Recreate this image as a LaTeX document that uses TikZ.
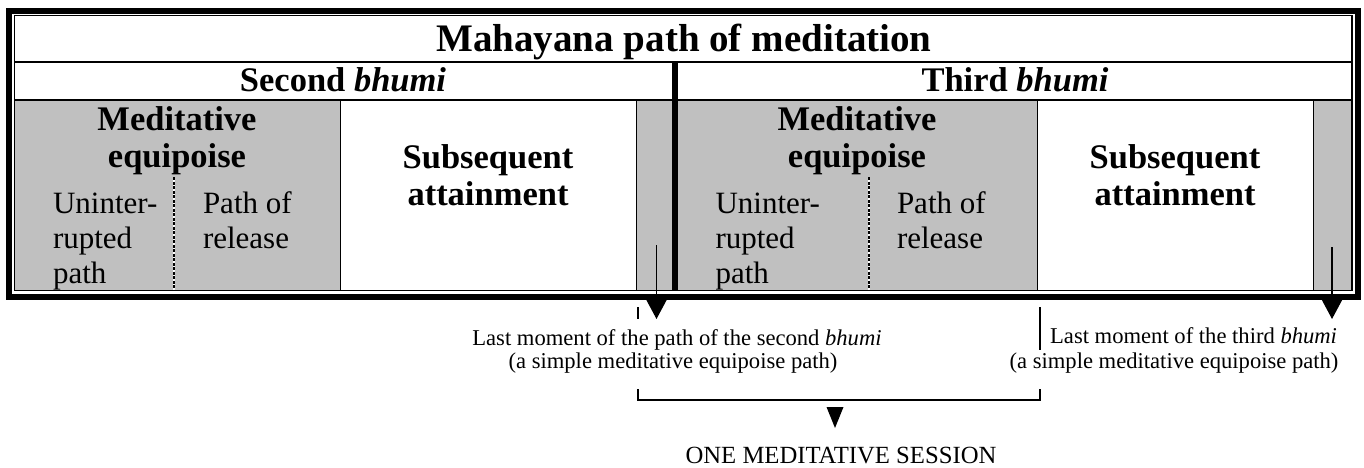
\documentclass[tikz,border=0pt]{standalone}
\usepackage{fontspec}
\setmainfont{Liberation Serif}
\usetikzlibrary{arrows.meta}
\definecolor{shade}{HTML}{C0C0C0}
\begin{document}
\begin{tikzpicture}[x=1pt,y=-1pt,
  cell/.style={draw=none,inner sep=0pt,outer sep=0pt,anchor=north west},
  txt/.style={inner sep=0pt,outer sep=0pt},
  title/.style={txt,font=\fontsize{39}{42}\selectfont\bfseries},
  head/.style={txt,font=\fontsize{34.5}{37}\selectfont\bfseries},
  body/.style={txt,font=\fontsize{31}{35}\selectfont},
  note/.style={txt,font=\fontsize{22.6}{23}\selectfont},
  session/.style={txt,font=\fontsize{24.7}{26}\selectfont},
  pointer/.style={line width=1.2pt,-{Triangle[width=20pt,length=19pt]}},
  thinrule/.style={line width=1pt},
  split/.style={line width=1.2pt,dash pattern=on 3pt off 1.5pt},
]
\useasboundingbox (0,0) rectangle (1364,468);

% shaded and plain cells of the lower row
\node[cell,fill=shade,minimum width=325.5pt,minimum height=190.5pt] (eq2) at (14.5,100) {};
\node[cell,minimum width=296pt,minimum height=190.5pt] (sub2) at (340,100) {};
\node[cell,fill=shade,minimum width=38.5pt,minimum height=190.5pt] (end2) at (636,100) {};
\node[cell,fill=shade,minimum width=362.5pt,minimum height=190.5pt] (eq3) at (674.5,100) {};
\node[cell,minimum width=276pt,minimum height=190.5pt] (sub3) at (1037,100) {};
\node[cell,fill=shade,minimum width=39pt,minimum height=190.5pt] (end3) at (1313,100) {};

% frame: heavy outer line, thin inner line
\draw[line width=6pt] (9,11) rectangle (1358,297);
\draw[line width=1.5pt] (14.5,15.5) rectangle (1352,290.5);

% row rules
\draw[line width=1.7pt] (14.5,61.8) -- (1352,61.8);
\draw[line width=1.7pt] (14.5,100.3) -- (1352,100.3);

% cell borders
\draw[thinrule] (eq2.north east) -- (eq2.south east);
\draw[thinrule] (sub2.north east) -- (sub2.south east);
\draw[thinrule] (eq3.north east) -- (eq3.south east);
\draw[thinrule] (sub3.north east) -- (sub3.south east);
\draw[line width=6pt] (674.5,61.8) -- (674.5,290.5);

% dashed splits inside the equipoise cells (black dashes on a white line)
\draw[line width=1.2pt,white] (174,177) -- (174,290.5);
\draw[split] (174,177) -- (174,290.5);
\draw[line width=1.2pt,white] (869,177) -- (869,290.5);
\draw[split] (869,177) -- (869,290.5);

% headings
\node[title,anchor=base] (ttl) at (684,52) {Mahayana path of meditation};
\node[head,anchor=base] (b2) at (343,92) {Second \textit{bhumi}};
\node[head,anchor=base] (b3) at (1015,92) {Third \textit{bhumi}};

% second bhumi (multi-line nodes sit on the baseline of their last line)
\node[head,anchor=base,align=center] (me2) at (177,167) {Meditative\\equipoise};
\node[head,anchor=base,align=center] (sa2) at (488,205) {Subsequent\\attainment};
\node[body,anchor=base west,align=left] (up2) at (53,283) {Uninter-\\rupted\\path};
\node[body,anchor=base west,align=left] (pr2) at (203,248) {Path of\\release};

% third bhumi
\node[head,anchor=base,align=center] (me3) at (857,167) {Meditative\\equipoise};
\node[head,anchor=base,align=center] (sa3) at (1175,205) {Subsequent\\attainment};
\node[body,anchor=base west,align=left] (up3) at (715.5,283) {Uninter-\\rupted\\path};
\node[body,anchor=base west,align=left] (pr3) at (897,248) {Path of\\release};

% pointers to the last moments
\coordinate (p2from) at (656.5,245);
\coordinate (p2to) at (656.5,319);
\coordinate (p3from) at (1332,247);
\coordinate (p3to) at (1332,319);
\draw[pointer] (p2from) -- (p2to);
\draw[pointer] (p3from) -- (p3to);

% captions below the frame
\node[note,anchor=base] (l2a) at (677,345) {Last moment of the path of the second \textit{bhumi}};
\node[note,anchor=base] (l2b) at (673,368) {(a simple meditative equipoise path)};
\node[note,anchor=base east] (l3a) at (1337,343) {Last moment of the third \textit{bhumi}};
\node[note,anchor=base] (l3b) at (1174,368) {(a simple meditative equipoise path)};

% session bracket
\coordinate (sL) at (638,307);
\coordinate (sLb) at (638,319);
\coordinate (sR) at (1040,307);
\coordinate (sRb) at (1040,350);
\draw[line width=1.2pt] (sL) -- (sLb);
\draw[line width=1.2pt] (sR) -- (sRb);
\coordinate (bL) at (638,389);
\coordinate (bR) at (1040,389);
\draw[line width=1.5pt] (bL) -- (638,400) -- (1040,400) -- (bR);
\fill (826.5,407) -- (843.5,407) -- (835,428) -- cycle;
\node[session,anchor=base] (ses) at (841,463) {ONE MEDITATIVE SESSION};
\end{tikzpicture}
\end{document}
